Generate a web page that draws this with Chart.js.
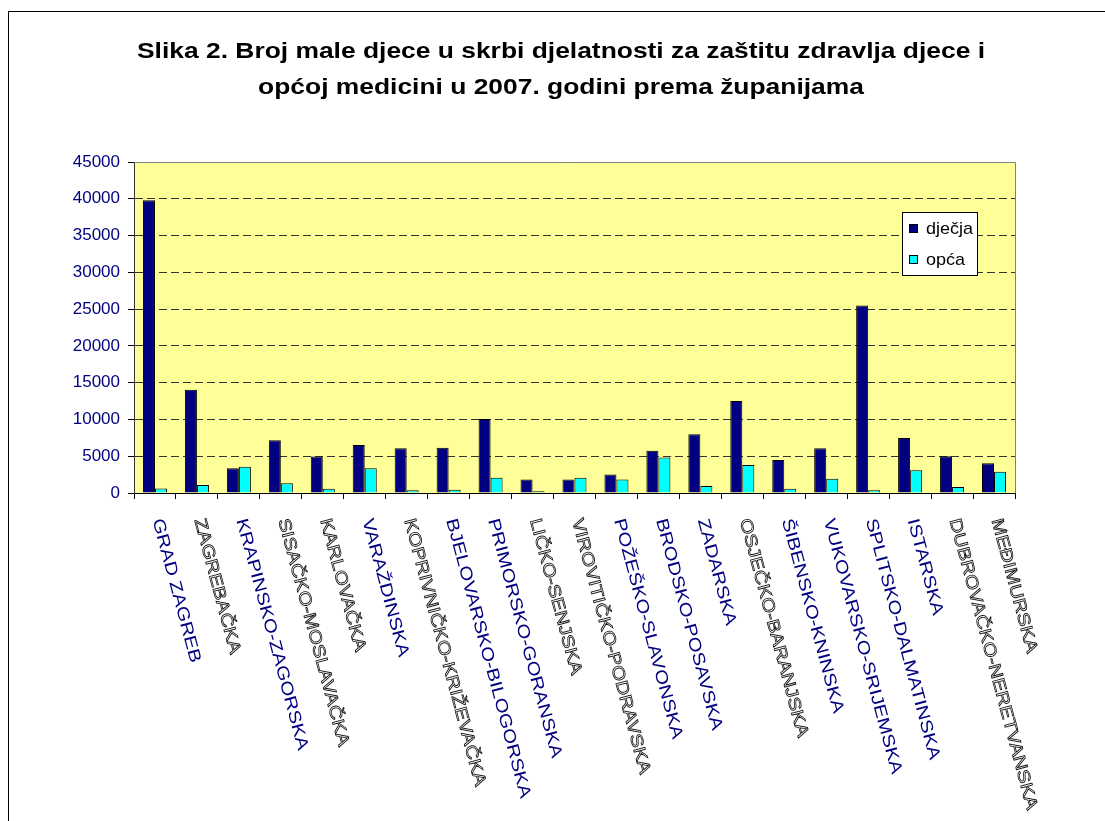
<!DOCTYPE html>
<html><head><meta charset="utf-8">
<script src="https://cdn.jsdelivr.net/npm/chart.js@4.4.0/dist/chart.umd.min.js"></script>
<style>
html,body{margin:0;padding:0;background:#fff;overflow:hidden;width:1105px;height:821px;}
#frame{position:absolute;left:8px;top:11px;width:1300px;height:1000px;border:1px solid #000;}
#wrap{position:absolute;left:0;top:0;width:1105px;height:821px;}
</style></head><body>
<div id="frame"></div>
<div id="wrap"><canvas id="c" width="1105" height="821"></canvas></div>
<script>
// ---- data ----
const titleLines = [
  'Slika 2. Broj male djece u skrbi djelatnosti za zaštitu zdravlja djece i',
  'općoj medicini u 2007. godini prema županijama'
];
const categories = [
  'GRAD ZAGREB', 'ZAGREBAČKA', 'KRAPINSKO-ZAGORSKA', 'SISAČKO-MOSLAVAČKA', 'KARLOVAČKA',
  'VARAŽDINSKA', 'KOPRIVNIČKO-KRIŽEVAČKA', 'BJELOVARSKO-BILOGORSKA', 'PRIMORSKO-GORANSKA',
  'LIČKO-SENJSKA', 'VIROVITIČKO-PODRAVSKA', 'POŽEŠKO-SLAVONSKA', 'BRODSKO-POSAVSKA', 'ZADARSKA',
  'OSJEČKO-BARANJSKA', 'ŠIBENSKO-KNINSKA', 'VUKOVARSKO-SRIJEMSKA', 'SPLITSKO-DALMATINSKA',
  'ISTARSKA', 'DUBROVAČKO-NERETVANSKA', 'MEĐIMURSKA'
];
const seriesNames = ['dječja', 'opća'];
const djecja = [39800, 14050, 3360, 7170, 4950, 6530, 6080, 6140, 10050, 1820, 1820,
                2500, 5730, 8000, 12520, 4490, 6080, 25490, 7480, 4990, 4040];
const opca   = [600, 1090, 3580, 1320, 590, 3360, 360, 450, 2090, 230, 2090,
                1820, 4820, 950, 3810, 590, 1950, 360, 3080, 820, 2900];
const yMin = 0, yMax = 45000, yStep = 5000;

// ---- drawing helpers ----
const FONT = '"Liberation Sans", Arial, sans-serif';

const plotBg = {
  id: 'plotBg',
  beforeDraw(chart) {
    const {ctx, chartArea: a} = chart;
    ctx.save();
    ctx.fillStyle = '#FFFF99';
    ctx.fillRect(a.left, a.top, a.right - a.left, a.bottom - a.top);
    ctx.restore();
  },
  afterDatasetsDraw(chart) {
    const {ctx, chartArea: a} = chart;
    ctx.save();
    ctx.strokeStyle = '#808080';
    ctx.lineWidth = 1;
    ctx.beginPath();
    ctx.moveTo(a.left, a.top + 0.5);
    ctx.lineTo(a.right + 0.5, a.top + 0.5);
    ctx.lineTo(a.right + 0.5, a.bottom);
    ctx.stroke();
    ctx.restore();
  }
};

const decor = {
  id: 'decor',
  afterDraw(chart) {
    const ctx = chart.ctx;
    // title
    ctx.save();
    ctx.font = 'bold 22px ' + FONT;
    ctx.fillStyle = '#000';
    ctx.textAlign = 'center';
    ctx.textBaseline = 'alphabetic';
    const sx = 848 / ctx.measureText(titleLines[0]).width;
    titleLines.forEach((ln, i) => {
      ctx.save();
      ctx.translate(561, 58 + i * 36);
      ctx.scale(sx, 1);
      ctx.fillText(ln, 0, 0);
      ctx.restore();
    });
    ctx.restore();

    // x category labels, rotated clockwise
    const xs = chart.scales.x;
    const ang = 75 * Math.PI / 180;
    chart.data.labels.forEach((lab, i) => {
      const x = xs.getPixelForValue(i);
      ctx.save();
      ctx.translate(x + 2, 519);
      ctx.rotate(ang);
      ctx.scale(1.2, 1);
      ctx.font = '17px ' + FONT;
      ctx.textAlign = 'left';
      ctx.textBaseline = 'middle';
      if (/[ČĆĐ]/.test(lab)) {
        ctx.strokeStyle = '#111';
        ctx.lineWidth = 0.8;
        ctx.strokeText(lab, 0, 0);
      } else {
        ctx.fillStyle = '#000080';
        ctx.fillText(lab, 0, 0);
      }
      ctx.restore();
    });

    // legend box inside plot
    ctx.save();
    ctx.fillStyle = '#fff';
    ctx.strokeStyle = '#000';
    ctx.lineWidth = 1;
    ctx.fillRect(902, 212, 76, 64);
    ctx.strokeRect(902.5, 212.5, 75, 63);
    chart.data.datasets.forEach((ds, i) => {
      const y = 224 + i * 31;
      ctx.fillStyle = ds.backgroundColor;
      ctx.fillRect(909, y, 9, 9);
      ctx.strokeStyle = '#000';
      ctx.strokeRect(909.5, y + 0.5, 8, 8);
      ctx.save();
      ctx.translate(926, y + 5);
      ctx.scale(1.06, 1);
      ctx.fillStyle = '#000';
      ctx.font = '17px ' + FONT;
      ctx.textAlign = 'left';
      ctx.textBaseline = 'middle';
      ctx.fillText(ds.label, 0, 0);
      ctx.restore();
    });
    ctx.restore();
  }
};

new Chart(document.getElementById('c'), {
  type: 'bar',
  data: {
    labels: categories,
    datasets: [
      { label: seriesNames[0], data: djecja, backgroundColor: '#000080', borderColor: '#000', borderWidth: 1 },
      { label: seriesNames[1], data: opca,   backgroundColor: '#00FFFF', borderColor: '#000', borderWidth: 1 }
    ]
  },
  options: {
    responsive: false,
    animation: false,
    devicePixelRatio: 1,
    categoryPercentage: 0.573,
    barPercentage: 1.0,
    layout: { padding: { left: 0, top: 162, right: 90, bottom: 0 } },
    plugins: { legend: { display: false }, title: { display: false }, tooltip: { enabled: false } },
    scales: {
      x: {
        afterFit(s) { s.height = 328; },
        ticks: { display: false },
        grid: { offset: true, drawOnChartArea: false, drawTicks: true, tickLength: 6, color: '#000', tickColor: '#000' },
        border: { display: true, color: '#000', width: 1 }
      },
      y: {
        min: yMin, max: yMax,
        afterFit(s) { s.width = 134; },
        ticks: {
          stepSize: yStep,
          padding: 8,
          color: '#000080',
          font: { family: FONT, size: 17 },
          callback: v => String(v)
        },
        grid: {
          drawTicks: true, tickLength: 6,
          color: c => (c.tick && (c.tick.value === yMin || c.tick.value === yMax)) ? 'rgba(0,0,0,0)' : '#333',
          tickColor: '#000'
        },
        border: { display: true, color: '#333', width: 1, dash: [8, 4] }
      }
    }
  },
  plugins: [plotBg, decor]
});
</script>
</body></html>
